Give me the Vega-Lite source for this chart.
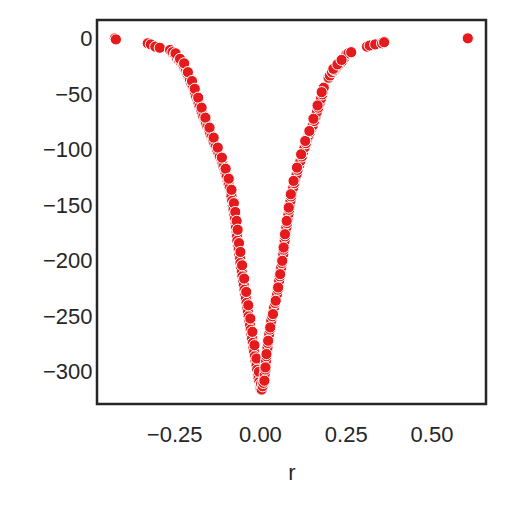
{
  "$schema": "https://vega.github.io/schema/vega-lite/v6.json",
  "width": 389,
  "height": 384,
  "autosize": {"type": "none"},
  "padding": {"left": 97, "top": 20, "right": 19, "bottom": 102},
  "background": "white",
  "config": {
    "view": {"stroke": "#262626", "strokeWidth": 2.5},
    "font": "Liberation Sans",
    "axis": {
      "domain": false,
      "grid": false,
      "ticks": false,
      "labelFont": "Liberation Sans",
      "labelFontSize": 22,
      "labelColor": "#262626",
      "titleFont": "Liberation Sans",
      "titleFontSize": 22,
      "titleFontWeight": "normal",
      "titleColor": "#262626"
    }
  },
  "data": {
    "values": [
      {"r": -0.423, "v": 0.5}, {"r": -0.420, "v": -0.5}, {"r": -0.327, "v": -4}, {"r": -0.318, "v": -5},
      {"r": -0.305, "v": -7}, {"r": -0.292, "v": -8}, {"r": -0.262, "v": -10}, {"r": -0.255, "v": -12},
      {"r": -0.248, "v": -14}, {"r": -0.242, "v": -17}, {"r": -0.236, "v": -19}, {"r": -0.230, "v": -21},
      {"r": -0.224, "v": -23}, {"r": -0.220, "v": -26}, {"r": -0.216, "v": -29}, {"r": -0.212, "v": -31},
      {"r": -0.208, "v": -34}, {"r": -0.204, "v": -37}, {"r": -0.200, "v": -40}, {"r": -0.196, "v": -43},
      {"r": -0.192, "v": -46}, {"r": -0.189, "v": -49}, {"r": -0.186, "v": -52}, {"r": -0.182, "v": -55},
      {"r": -0.179, "v": -58}, {"r": -0.176, "v": -61}, {"r": -0.172, "v": -64}, {"r": -0.168, "v": -67},
      {"r": -0.165, "v": -70}, {"r": -0.161, "v": -73}, {"r": -0.157, "v": -76}, {"r": -0.153, "v": -79},
      {"r": -0.149, "v": -82}, {"r": -0.145, "v": -85}, {"r": -0.141, "v": -88}, {"r": -0.137, "v": -91},
      {"r": -0.133, "v": -94}, {"r": -0.129, "v": -97}, {"r": -0.125, "v": -100}, {"r": -0.121, "v": -103},
      {"r": -0.117, "v": -106}, {"r": -0.112, "v": -109}, {"r": -0.109, "v": -112}, {"r": -0.106, "v": -115},
      {"r": -0.103, "v": -118}, {"r": -0.100, "v": -121}, {"r": -0.097, "v": -124}, {"r": -0.094, "v": -128},
      {"r": -0.091, "v": -131}, {"r": -0.088, "v": -134}, {"r": -0.085, "v": -138}, {"r": -0.083, "v": -142},
      {"r": -0.081, "v": -146}, {"r": -0.079, "v": -150}, {"r": -0.077, "v": -154}, {"r": -0.075, "v": -158},
      {"r": -0.073, "v": -162}, {"r": -0.071, "v": -166}, {"r": -0.070, "v": -170}, {"r": -0.068, "v": -174},
      {"r": -0.067, "v": -178}, {"r": -0.066, "v": -182}, {"r": -0.064, "v": -186}, {"r": -0.062, "v": -190},
      {"r": -0.060, "v": -194}, {"r": -0.058, "v": -198}, {"r": -0.057, "v": -202}, {"r": -0.055, "v": -206},
      {"r": -0.053, "v": -210}, {"r": -0.051, "v": -214}, {"r": -0.049, "v": -218}, {"r": -0.047, "v": -222},
      {"r": -0.045, "v": -226}, {"r": -0.043, "v": -230}, {"r": -0.041, "v": -234}, {"r": -0.039, "v": -238},
      {"r": -0.037, "v": -242}, {"r": -0.035, "v": -246}, {"r": -0.033, "v": -250}, {"r": -0.031, "v": -254},
      {"r": -0.029, "v": -258}, {"r": -0.027, "v": -262}, {"r": -0.025, "v": -266}, {"r": -0.023, "v": -270},
      {"r": -0.021, "v": -274}, {"r": -0.019, "v": -278}, {"r": -0.017, "v": -282}, {"r": -0.015, "v": -286},
      {"r": -0.013, "v": -290}, {"r": -0.010, "v": -294}, {"r": -0.008, "v": -298}, {"r": -0.006, "v": -302},
      {"r": -0.004, "v": -306}, {"r": -0.002, "v": -309}, {"r": 0.000, "v": -312}, {"r": 0.002, "v": -315},
      {"r": -0.246, "v": -13}, {"r": -0.233, "v": -18}, {"r": -0.221, "v": -22}, {"r": -0.210, "v": -30},
      {"r": -0.198, "v": -38}, {"r": -0.190, "v": -45}, {"r": -0.180, "v": -53}, {"r": -0.170, "v": -62},
      {"r": -0.159, "v": -71}, {"r": -0.147, "v": -80}, {"r": -0.135, "v": -89}, {"r": -0.123, "v": -98},
      {"r": -0.111, "v": -107}, {"r": -0.100, "v": -117}, {"r": -0.091, "v": -126}, {"r": -0.083, "v": -136},
      {"r": -0.076, "v": -148}, {"r": -0.072, "v": -156}, {"r": -0.068, "v": -164}, {"r": -0.065, "v": -172},
      {"r": -0.061, "v": -184}, {"r": -0.057, "v": -192}, {"r": -0.052, "v": -204}, {"r": -0.046, "v": -216},
      {"r": -0.040, "v": -228}, {"r": -0.034, "v": -240}, {"r": -0.028, "v": -252}, {"r": -0.022, "v": -264},
      {"r": -0.016, "v": -276}, {"r": -0.010, "v": -288}, {"r": -0.003, "v": -300}, {"r": 0.003, "v": -311},
      {"r": 0.005, "v": -316}, {"r": 0.008, "v": -313}, {"r": 0.010, "v": -310}, {"r": 0.012, "v": -306},
      {"r": 0.014, "v": -302}, {"r": 0.016, "v": -298}, {"r": 0.017, "v": -294}, {"r": 0.018, "v": -290},
      {"r": 0.019, "v": -286}, {"r": 0.020, "v": -282}, {"r": 0.022, "v": -278}, {"r": 0.023, "v": -274},
      {"r": 0.025, "v": -270}, {"r": 0.027, "v": -266}, {"r": 0.029, "v": -262}, {"r": 0.031, "v": -258},
      {"r": 0.033, "v": -254}, {"r": 0.036, "v": -250}, {"r": 0.039, "v": -246}, {"r": 0.041, "v": -242},
      {"r": 0.044, "v": -238}, {"r": 0.047, "v": -234}, {"r": 0.050, "v": -230}, {"r": 0.052, "v": -226},
      {"r": 0.054, "v": -222}, {"r": 0.056, "v": -218}, {"r": 0.058, "v": -214}, {"r": 0.060, "v": -210},
      {"r": 0.062, "v": -206}, {"r": 0.064, "v": -202}, {"r": 0.066, "v": -198}, {"r": 0.068, "v": -194},
      {"r": 0.069, "v": -190}, {"r": 0.070, "v": -186}, {"r": 0.072, "v": -182}, {"r": 0.073, "v": -178},
      {"r": 0.075, "v": -174}, {"r": 0.077, "v": -170}, {"r": 0.079, "v": -166}, {"r": 0.081, "v": -162},
      {"r": 0.083, "v": -158}, {"r": 0.085, "v": -154}, {"r": 0.087, "v": -150}, {"r": 0.089, "v": -146},
      {"r": 0.091, "v": -142}, {"r": 0.094, "v": -138}, {"r": 0.097, "v": -134}, {"r": 0.100, "v": -130},
      {"r": 0.103, "v": -126}, {"r": 0.107, "v": -122}, {"r": 0.110, "v": -118}, {"r": 0.114, "v": -114},
      {"r": 0.118, "v": -110}, {"r": 0.122, "v": -106}, {"r": 0.126, "v": -102}, {"r": 0.130, "v": -98},
      {"r": 0.134, "v": -94}, {"r": 0.138, "v": -90}, {"r": 0.142, "v": -87}, {"r": 0.146, "v": -84},
      {"r": 0.150, "v": -81}, {"r": 0.154, "v": -78}, {"r": 0.158, "v": -74}, {"r": 0.162, "v": -70},
      {"r": 0.166, "v": -66}, {"r": 0.170, "v": -62}, {"r": 0.174, "v": -58}, {"r": 0.178, "v": -54},
      {"r": 0.182, "v": -50}, {"r": 0.184, "v": -47}, {"r": 0.186, "v": -44}, {"r": 0.200, "v": -35},
      {"r": 0.204, "v": -33}, {"r": 0.210, "v": -30}, {"r": 0.216, "v": -28}, {"r": 0.222, "v": -26},
      {"r": 0.228, "v": -24}, {"r": 0.234, "v": -22}, {"r": 0.240, "v": -20}, {"r": 0.246, "v": -17},
      {"r": 0.252, "v": -14}, {"r": 0.258, "v": -13}, {"r": 0.266, "v": -12}, {"r": 0.312, "v": -7},
      {"r": 0.320, "v": -6}, {"r": 0.336, "v": -5}, {"r": 0.356, "v": -4}, {"r": 0.362, "v": -3},
      {"r": 0.606, "v": 0.5},
      {"r": 0.013, "v": -308}, {"r": 0.016, "v": -296}, {"r": 0.019, "v": -284}, {"r": 0.024, "v": -272},
      {"r": 0.030, "v": -260}, {"r": 0.038, "v": -248}, {"r": 0.046, "v": -236}, {"r": 0.053, "v": -224},
      {"r": 0.059, "v": -212}, {"r": 0.065, "v": -200}, {"r": 0.069, "v": -188}, {"r": 0.073, "v": -176},
      {"r": 0.078, "v": -164}, {"r": 0.084, "v": -152}, {"r": 0.090, "v": -140}, {"r": 0.098, "v": -128},
      {"r": 0.108, "v": -116}, {"r": 0.120, "v": -104}, {"r": 0.132, "v": -92}, {"r": 0.144, "v": -83},
      {"r": 0.156, "v": -72}, {"r": 0.168, "v": -60}, {"r": 0.180, "v": -48}, {"r": 0.214, "v": -27},
      {"r": 0.226, "v": -23}, {"r": 0.238, "v": -19}
    ]
  },
  "mark": {"type": "point", "filled": true, "fill": "#e41a1c", "stroke": "white", "strokeWidth": 1, "size": 125, "opacity": 1},
  "encoding": {
    "x": {
      "field": "r",
      "type": "quantitative",
      "scale": {"domain": [-0.475, 0.659], "nice": false, "zero": false},
      "axis": {"values": [-0.25, 0, 0.25, 0.5], "format": ".2f", "title": "r", "labelPadding": 20, "titlePadding": 17}
    },
    "y": {
      "field": "v",
      "type": "quantitative",
      "scale": {"domain": [-329, 17], "nice": false, "zero": false},
      "axis": {"values": [0, -50, -100, -150, -200, -250, -300], "title": null, "labelPadding": 5}
    }
  }
}
